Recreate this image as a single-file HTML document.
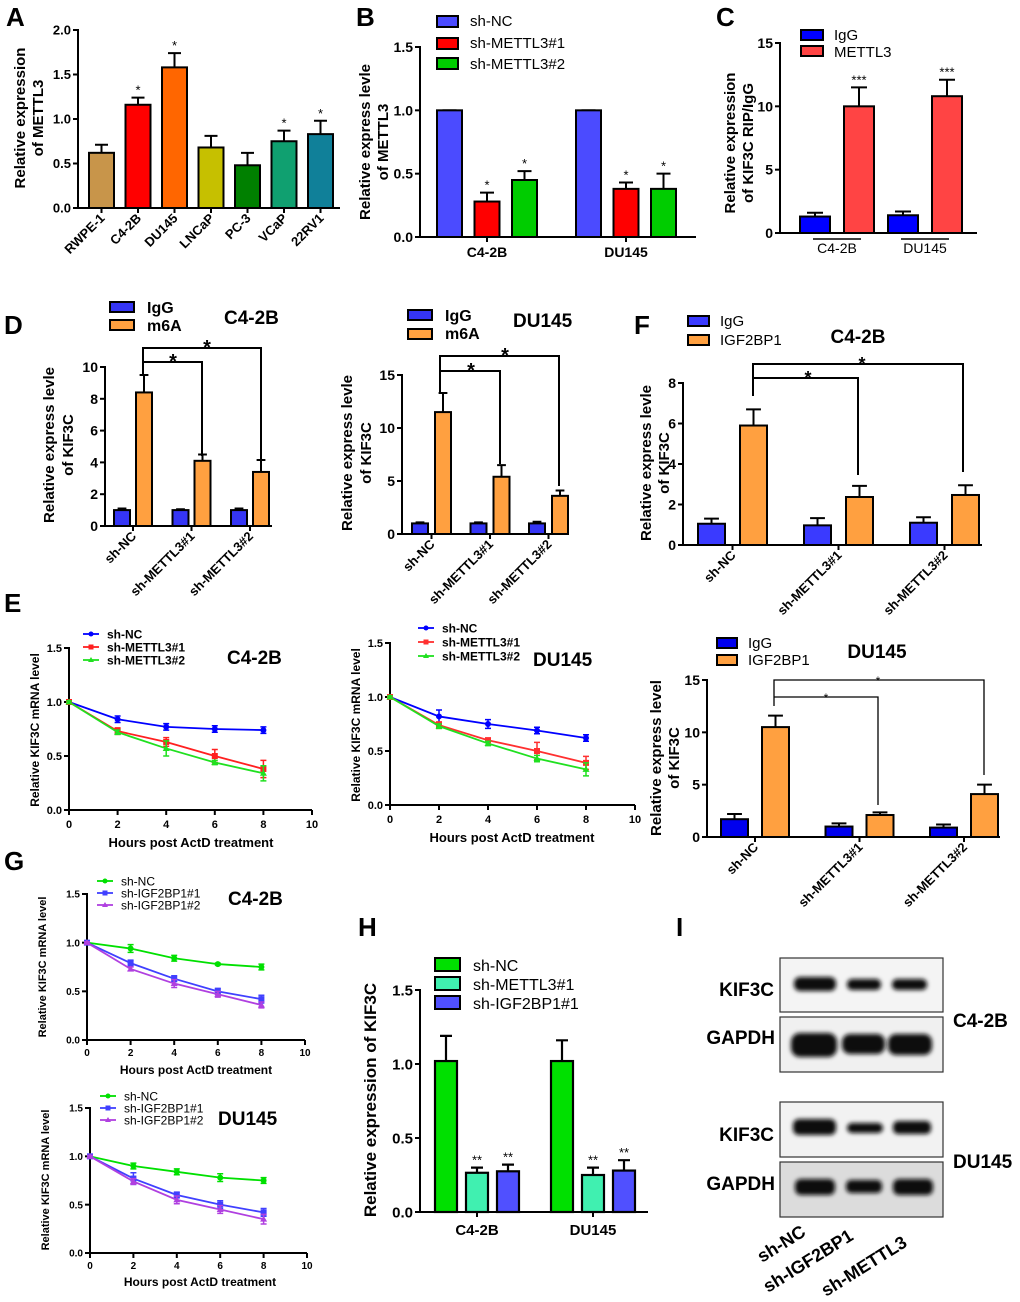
<!DOCTYPE html>
<html><head><meta charset="utf-8">
<style>
html,body{margin:0;padding:0;background:#fff;}
svg{display:block;font-family:"Liberation Sans",Arial,sans-serif;}
.b{font-weight:bold;}
</style></head>
<body>
<svg id="fig" width="1020" height="1302" viewBox="0 0 1020 1302" xmlns="http://www.w3.org/2000/svg">
<defs><filter id="blur" x="-20%" y="-50%" width="140%" height="200%"><feGaussianBlur stdDeviation="2.2"/></filter></defs>
<text x="6" y="26" font-size="26" class="b">A</text>
<text x="356" y="26" font-size="26" class="b">B</text>
<text x="716" y="26" font-size="26" class="b">C</text>
<text x="4" y="334" font-size="26" class="b">D</text>
<text x="4" y="612" font-size="26" class="b">E</text>
<text x="634" y="334" font-size="26" class="b">F</text>
<text x="4" y="870" font-size="26" class="b">G</text>
<text x="358" y="936" font-size="26" class="b">H</text>
<text x="676" y="936" font-size="26" class="b">I</text>

<g font-size="15" class="b" text-anchor="middle">
<text transform="translate(25,118) rotate(-90)">Relative expression</text>
<text transform="translate(43,118) rotate(-90)">of METTL3</text></g>

<g font-size="15">
<rect x="437" y="16" width="21" height="11" fill="#4b4bff" stroke="#000" stroke-width="2"/><text x="470" y="26">sh-NC</text>
<rect x="437" y="38" width="21" height="11" fill="#ff0000" stroke="#000" stroke-width="2"/><text x="470" y="48">sh-METTL3#1</text>
<rect x="437" y="58" width="21" height="11" fill="#00cc00" stroke="#000" stroke-width="2"/><text x="470" y="69">sh-METTL3#2</text></g>
<g font-size="15" class="b" text-anchor="middle">
<text transform="translate(370,142) rotate(-90)">Relative express levle</text>
<text transform="translate(388,142) rotate(-90)">of METTL3</text></g>

<g font-size="15">
<rect x="801" y="30" width="22" height="10" fill="#0000ff" stroke="#000" stroke-width="2"/><text x="834" y="40">IgG</text>
<rect x="801" y="46" width="22" height="10" fill="#ff4444" stroke="#000" stroke-width="2"/><text x="834" y="57">METTL3</text></g>
<g font-size="15" class="b" text-anchor="middle">
<text transform="translate(735,143) rotate(-90)">Relative expression</text>
<text transform="translate(753,143) rotate(-90)">of KIF3C RIP/IgG</text></g>

<g font-size="16" class="b">
<rect x="110" y="302" width="24" height="10" fill="#3535f5" stroke="#000" stroke-width="2"/><text x="147" y="313">IgG</text>
<rect x="110" y="320" width="24" height="10" fill="#ffa040" stroke="#000" stroke-width="2"/><text x="147" y="331">m6A</text></g>
<text x="224" y="324" font-size="19" class="b">C4-2B</text>
<g font-size="15" class="b" text-anchor="middle">
<text transform="translate(54,445) rotate(-90)">Relative express levle</text>
<text transform="translate(73,445) rotate(-90)">of KIF3C</text></g>
<g fill="none" stroke="#000" stroke-width="2">
<path d="M143,374 V348 H261 V470"/><path d="M143,362 H202 V456"/></g>
<text x="173" y="368" font-size="20" class="b" text-anchor="middle">*</text>
<text x="207" y="354" font-size="20" class="b" text-anchor="middle">*</text>

<g font-size="16" class="b">
<rect x="408" y="310" width="24" height="10" fill="#3535f5" stroke="#000" stroke-width="2"/><text x="445" y="321">IgG</text>
<rect x="408" y="329" width="24" height="10" fill="#ffa040" stroke="#000" stroke-width="2"/><text x="445" y="339">m6A</text></g>
<text x="513" y="327" font-size="19" class="b">DU145</text>
<g font-size="15" class="b" text-anchor="middle">
<text transform="translate(352,453) rotate(-90)">Relative express levle</text>
<text transform="translate(371,453) rotate(-90)">of KIF3C</text></g>
<g fill="none" stroke="#000" stroke-width="2">
<path d="M440,392 V356 H559 V486"/><path d="M440,371 H500 V464"/></g>
<text x="471" y="377" font-size="20" class="b" text-anchor="middle">*</text>
<text x="505" y="362" font-size="20" class="b" text-anchor="middle">*</text>

<g font-size="15">
<rect x="688" y="316" width="21" height="10" fill="#3a3aff" stroke="#000" stroke-width="2"/><text x="720" y="326">IgG</text>
<rect x="688" y="335" width="21" height="10" fill="#ffa040" stroke="#000" stroke-width="2"/><text x="720" y="345">IGF2BP1</text></g>
<text x="858" y="343" font-size="19" class="b" text-anchor="middle">C4-2B</text>
<g font-size="15" class="b" text-anchor="middle">
<text transform="translate(651,463) rotate(-90)">Relative express levle</text>
<text transform="translate(669,463) rotate(-90)">of KIF3C</text></g>
<g fill="none" stroke="#000" stroke-width="2">
<path d="M753,396 V364 H963 V472"/><path d="M753,378 H858 V475"/></g>
<text x="808" y="384" font-size="18" class="b" text-anchor="middle">*</text>
<text x="862" y="370" font-size="18" class="b" text-anchor="middle">*</text>

<g font-size="15">
<rect x="717" y="638" width="20" height="10" fill="#0000ee" stroke="#000" stroke-width="2"/><text x="748" y="648">IgG</text>
<rect x="717" y="655" width="20" height="10" fill="#ffa040" stroke="#000" stroke-width="2"/><text x="748" y="665">IGF2BP1</text></g>
<text x="877" y="658" font-size="19" class="b" text-anchor="middle">DU145</text>
<g font-size="15" class="b" text-anchor="middle">
<text transform="translate(661,758) rotate(-90)">Relative express level</text>
<text transform="translate(679,758) rotate(-90)">of KIF3C</text></g>
<g fill="none" stroke="#000" stroke-width="1.3">
<path d="M774,706 V680 H984 V775"/><path d="M774,697 H878 V805"/></g>
<text x="826" y="702" font-size="12" text-anchor="middle">*</text>
<text x="878" y="685" font-size="12" text-anchor="middle">*</text>

<text x="227" y="664" font-size="19" class="b">C4-2B</text>
<text x="533" y="666" font-size="19" class="b">DU145</text>
<text transform="translate(39,730) rotate(-90)" font-size="12" class="b" text-anchor="middle">Relative KIF3C mRNA level</text>
<text transform="translate(360,725) rotate(-90)" font-size="12" class="b" text-anchor="middle">Relative KIF3C mRNA level</text>
<text x="191" y="847" font-size="13" class="b" text-anchor="middle">Hours post ActD treatment</text>
<text x="512" y="842" font-size="13" class="b" text-anchor="middle">Hours post ActD treatment</text>

<text x="228" y="905" font-size="19" class="b">C4-2B</text>
<text x="218" y="1125" font-size="19" class="b">DU145</text>
<text transform="translate(46,967) rotate(-90)" font-size="11" class="b" text-anchor="middle">Relative KIF3C mRNA level</text>
<text transform="translate(49,1180) rotate(-90)" font-size="11" class="b" text-anchor="middle">Relative KIF3C mRNA level</text>
<text x="196" y="1074" font-size="12" class="b" text-anchor="middle">Hours post ActD treatment</text>
<text x="200" y="1286" font-size="12" class="b" text-anchor="middle">Hours post ActD treatment</text>

<g font-size="16">
<rect x="435" y="958" width="25" height="13" fill="#00e000" stroke="#000" stroke-width="2"/><text x="473" y="971">sh-NC</text>
<rect x="435" y="977" width="25" height="13" fill="#40f0b0" stroke="#000" stroke-width="2"/><text x="473" y="990">sh-METTL3#1</text>
<rect x="435" y="996" width="25" height="13" fill="#5050ff" stroke="#000" stroke-width="2"/><text x="473" y="1009">sh-IGF2BP1#1</text></g>
<text transform="translate(376,1100) rotate(-90)" font-size="17" class="b" text-anchor="middle">Relative expression of KIF3C</text>

<g>
<rect x="780" y="958" width="163" height="54" fill="#f4f4f4" stroke="#333" stroke-width="1.2"/>
<g filter="url(#blur)" fill="#111"><rect x="794" y="977" width="42" height="14" rx="6"/><rect x="847" y="979" width="34" height="11" rx="5"/><rect x="892" y="979" width="35" height="11" rx="5"/></g></g>
<g>
<rect x="780" y="1017" width="163" height="55" fill="#f0f0f0" stroke="#333" stroke-width="1.2"/>
<g filter="url(#blur)" fill="#0a0a0a"><rect x="791" y="1033" width="46" height="24" rx="9"/><rect x="842" y="1034" width="43" height="20" rx="8"/><rect x="888" y="1034" width="44" height="21" rx="8"/></g></g>
<g>
<rect x="780" y="1102" width="163" height="55" fill="#f2f2f2" stroke="#333" stroke-width="1.2"/>
<g filter="url(#blur)" fill="#111"><rect x="793" y="1119" width="43" height="16" rx="6"/><rect x="847" y="1123" width="36" height="10" rx="5"/><rect x="893" y="1121" width="38" height="13" rx="5"/></g></g>
<g>
<rect x="780" y="1162" width="163" height="55" fill="#dcdcdc" stroke="#333" stroke-width="1.2"/>
<g filter="url(#blur)" fill="#111"><rect x="795" y="1179" width="40" height="16" rx="6"/><rect x="846" y="1180" width="36" height="13" rx="5"/><rect x="893" y="1179" width="40" height="16" rx="6"/></g></g>
<g font-size="19" class="b" text-anchor="end">
<text x="774" y="996">KIF3C</text><text x="775" y="1044">GAPDH</text>
<text x="774" y="1141">KIF3C</text><text x="775" y="1190">GAPDH</text></g>
<text x="953" y="1027" font-size="19" class="b">C4-2B</text>
<text x="953" y="1168" font-size="19" class="b">DU145</text>
<g font-size="18" class="b">
<text transform="translate(762,1263) rotate(-32)">sh-NC</text>
<text transform="translate(768,1293) rotate(-32)">sh-IGF2BP1</text>
<text transform="translate(826,1297) rotate(-32)">sh-METTL3</text></g>
</svg>

<script>
// ===== DATA =====
const aCategories = ["RWPE-1","C4-2B","DU145","LNCaP","PC-3","VCaP","22RV1"];
const aValues = [0.62,1.16,1.58,0.68,0.48,0.75,0.83];
const aErrors = [0.71,1.24,1.74,0.81,0.62,0.87,0.98];
const aStars = ["","*","*","","","*","*"];
const aTicks = [0,0.5,1.0,1.5,2.0];
const bGroups = ["C4-2B","DU145"];
const bShNC = [1.0,1.0];
const bShM1 = [0.28,0.38];
const bShM2 = [0.45,0.38];
const bErrNC = [1.0,1.0];
const bErrM1 = [0.35,0.43];
const bErrM2 = [0.52,0.50];
const bStars = ["","*","*"];
const bTicks = [0,0.5,1.0,1.5];
const cGroups = ["C4-2B","DU145"];
const cIgG = [1.3,1.4];
const cMETTL3 = [10.0,10.8];
const cErrIgG = [1.6,1.7];
const cErrMETTL3 = [11.5,12.1];
const cTicks = [0,5,10,15];
const dGroups = ["sh-NC","sh-METTL3#1","sh-METTL3#2"];
const d1IgG = [1.0,1.0,1.0];
const d1M6A = [8.4,4.1,3.4];
const d1ErrIgG = [1.1,1.05,1.1];
const d1ErrM6A = [9.5,4.5,4.15];
const d1Ticks = [0,2,4,6,8,10];
const d2IgG = [1.0,1.0,1.0];
const d2M6A = [11.5,5.4,3.6];
const d2ErrIgG = [1.1,1.1,1.15];
const d2ErrM6A = [13.3,6.5,4.1];
const d2Ticks = [0,5,10,15];
const hours = [0,2,4,6,8];
const xTicks = [0,2,4,6,8,10];
const lineTicks = [0,0.5,1.0,1.5];
const e1NC = [1,0.84,0.77,0.75,0.74];
const e1M1 = [1,0.73,0.63,0.50,0.38];
const e1M2 = [1,0.72,0.57,0.44,0.34];
const e1ErrNC = [0.01,0.03,0.03,0.03,0.03];
const e1ErrM1 = [0.01,0.03,0.04,0.06,0.08];
const e1ErrM2 = [0.01,0.02,0.07,0.02,0.07];
const e2NC = [1,0.82,0.75,0.69,0.62];
const e2M1 = [1,0.74,0.60,0.50,0.39];
const e2M2 = [1,0.73,0.57,0.43,0.33];
const e2ErrNC = [0.01,0.06,0.04,0.03,0.03];
const e2ErrM1 = [0.01,0.03,0.02,0.08,0.06];
const e2ErrM2 = [0.01,0.02,0.02,0.03,0.06];
const eSeriesNames = ["sh-NC","sh-METTL3#1","sh-METTL3#2"];
const f1IgG = [1.05,0.97,1.1];
const f1IGF = [5.9,2.37,2.47];
const f1ErrIgG = [1.3,1.33,1.37];
const f1ErrIGF = [6.7,2.92,2.95];
const f1Ticks = [0,2,4,6,8];
const f2IgG = [1.7,1.0,0.9];
const f2IGF = [10.5,2.1,4.1];
const f2ErrIgG = [2.2,1.3,1.2];
const f2ErrIGF = [11.6,2.35,5.0];
const f2Ticks = [0,5,10,15];
const g1NC = [1,0.94,0.84,0.78,0.75];
const g1I1 = [1,0.79,0.63,0.50,0.42];
const g1I2 = [1,0.73,0.58,0.47,0.36];
const g1ErrNC = [0.01,0.04,0.03,0.01,0.03];
const g1ErrI1 = [0.01,0.03,0.03,0.03,0.04];
const g1ErrI2 = [0.01,0.02,0.04,0.03,0.03];
const g2NC = [1,0.90,0.84,0.78,0.75];
const g2I1 = [1,0.77,0.60,0.50,0.42];
const g2I2 = [1,0.74,0.55,0.45,0.35];
const g2ErrNC = [0.01,0.03,0.03,0.04,0.03];
const g2ErrI1 = [0.01,0.06,0.03,0.04,0.04];
const g2ErrI2 = [0.01,0.03,0.04,0.04,0.05];
const gSeriesNames = ["sh-NC","sh-IGF2BP1#1","sh-IGF2BP1#2"];
const hGroups = ["C4-2B","DU145"];
const hShNC = [1.02,1.02];
const hShM1 = [0.265,0.25];
const hShI1 = [0.275,0.28];
const hErrNC = [1.19,1.16];
const hErrM1 = [0.30,0.30];
const hErrI1 = [0.32,0.35];
const hStars = ["","**","**"];
const hTicks = [0,0.5,1.0,1.5];

// ===== HELPERS =====
const NS = "http://www.w3.org/2000/svg";
const fig = document.getElementById("fig");
function mk(parent, tag, attrs, text) {
  const e = document.createElementNS(NS, tag);
  for (const k in attrs) e.setAttribute(k, attrs[k]);
  if (text != null) e.textContent = text;
  parent.appendChild(e);
  return e;
}
function scaleY(base, top, max) { return v => base - (v / max) * (base - top); }
function scaleX(x0, x1, max) { return v => x0 + (v / max) * (x1 - x0); }

function drawAxes(name, ax, base, top, xEnd, ticks, max, fmt, fs) {
  const g = mk(fig, "g", {});
  
  
  const sy = scaleY(base, top, max);
  mk(g, "line", {x1: ax, y1: top - 1, x2: ax, y2: base, stroke: "#000", "stroke-width": 2});
  mk(g, "line", {x1: ax - 1, y1: base, x2: xEnd, y2: base, stroke: "#000", "stroke-width": 2});
  ticks.forEach(t => {
    const y = sy(t);
    mk(g, "line", {x1: ax - 5, y1: y, x2: ax, y2: y, stroke: "#000", "stroke-width": 2});
    const lbl = mk(g, "text", {x: ax - 7, y: y + fs * 0.36, "font-size": fs, "font-weight": "bold", "text-anchor": "end"}, fmt(t));
    
    
  });
  return sy;
}

function drawBarSeries(name, sy, base, values, errs, color, start, gStep, w, capW, sw) {
  const g = mk(fig, "g", {});
  
  
  values.forEach((v, i) => {
    const x = start + i * gStep;
    const y = sy(v);
    const ey = sy(errs[i]);
    const ln = mk(g, "path", {d: `M${x + w / 2},${y} V${ey} M${x + w / 2 - capW / 2},${ey} H${x + w / 2 + capW / 2}`, stroke: "#000", "stroke-width": sw, fill: "none"});
    
    
    const r = mk(g, "rect", {x: x, y: y, width: w, height: base - y, fill: color, stroke: "#000", "stroke-width": sw});
    
    
  });
}

function drawStars(name, sy, errs, labels, start, gStep, w, fs, bold) {
  labels.forEach((s, i) => {
    if (!s) return;
    const t = mk(fig, "text", {x: start + i * gStep + w / 2, y: sy(errs[i]) - 3, "font-size": fs, "text-anchor": "middle", "font-weight": bold ? "bold" : "normal"}, s);
    
    
  });
}

function drawRotLabels(name, cats, centers, base, fs, ang) {
  cats.forEach((c, i) => {
    const x = centers[i];
    mk(fig, "line", {x1: x, y1: base, x2: x, y2: base + 5, stroke: "#000", "stroke-width": 2});
    const t = mk(fig, "text", {transform: `translate(${x + 4},${base + 11}) rotate(${ang})`, "font-size": fs, "font-weight": "bold", "text-anchor": "end"}, c);
    
    
  });
}

function drawLineChart(name, ax, xEnd, base, top, ySeries, yErrs, colors, markers, fsT, legX, legY, legStep, legFs, legBold, names, tickLabY) {
  const sy = drawAxes(name, ax, base, top, xEnd, lineTicks, 1.5, v => v.toFixed(1), fsT);
  const sx = scaleX(ax, xEnd, 10);
  xTicks.forEach(t => {
    mk(fig, "line", {x1: sx(t), y1: base, x2: sx(t), y2: base + 5, stroke: "#000", "stroke-width": 2});
    const l = mk(fig, "text", {x: sx(t), y: tickLabY, "font-size": fsT, "font-weight": "bold", "text-anchor": "middle"}, String(t));
    
    
  });
  ySeries.forEach((ser, s) => {
    const g = mk(fig, "g", {});
    
    
    const pts = ser.map((v, i) => sx(hours[i]) + "," + sy(v)).join(" ");
    const pl = mk(g, "polyline", {points: pts, fill: "none", stroke: colors[s], "stroke-width": 1.8});
    
    
    ser.forEach((v, i) => {
      const x = sx(hours[i]), y = sy(v), e = yErrs[s][i];
      mk(g, "path", {d: `M${x},${sy(v + e)} V${sy(v - e)} M${x - 3},${sy(v + e)} H${x + 3} M${x - 3},${sy(v - e)} H${x + 3}`, stroke: colors[s], "stroke-width": 1.5, fill: "none"});
      let m;
      if (markers[s] === "c") m = mk(g, "circle", {cx: x, cy: y, r: 3, fill: colors[s]});
      else if (markers[s] === "s") m = mk(g, "rect", {x: x - 3, y: y - 3, width: 6, height: 6, fill: colors[s]});
      else m = mk(g, "path", {d: `M${x},${y - 3.5} L${x + 3.5},${y + 2.5} L${x - 3.5},${y + 2.5}Z`, fill: colors[s]});
      
      
    });
    const ly = legY + s * legStep;
    const le = mk(fig, "g", {});
    
    
    mk(le, "line", {x1: legX, y1: ly, x2: legX + 16, y2: ly, stroke: colors[s], "stroke-width": 1.8});
    if (markers[s] === "c") mk(le, "circle", {cx: legX + 8, cy: ly, r: 2.5, fill: colors[s]});
    else if (markers[s] === "s") mk(le, "rect", {x: legX + 5.5, y: ly - 2.5, width: 5, height: 5, fill: colors[s]});
    else mk(le, "path", {d: `M${legX + 8},${ly - 3} L${legX + 11},${ly + 2} L${legX + 5},${ly + 2}Z`, fill: colors[s]});
    mk(le, "text", {x: legX + 24, y: ly + legFs * 0.36, "font-size": legFs, "font-weight": legBold ? "bold" : "normal"}, names[s]);
  });
}

const f1 = v => v.toFixed(1);
const f0 = v => String(v);

// ===== PANEL A =====
(function () {
  const base = 208, start = 89, step = 36.5, w = 25;
  const sy = drawAxes("panel-a", 78, base, 30, 340, aTicks, 2.0, f1, 13);
  drawBarSeries("panel-a-bars", sy, base, aValues, aErrors, "#888", start, step, w, 13, 2);
  const cols = ["#c8954a","#ff0000","#ff6600","#c6c000","#008000","#10a070","#108099"];
  const bars = fig.lastChild.querySelectorAll("rect");
  bars.forEach((r, i) => r.setAttribute("fill", cols[i]));
  drawStars("panel-a", sy, aErrors, aStars, start, step, w, 13, false);
  drawRotLabels("panel-a", aCategories, aCategories.map((c, i) => start + i * step + w / 2), base, 13, -45);
})();

// ===== PANEL B =====
(function () {
  const base = 237, start = 437, gStep = 139, bStep = 37.5, w = 25;
  const sy = drawAxes("panel-b", 420, base, 47, 696, bTicks, 1.5, f1, 14);
  const vals = [bShNC, bShM1, bShM2], errs = [bErrNC, bErrM1, bErrM2];
  const cols = ["#4b4bff", "#ff0000", "#00cc00"], nm = ["sh-nc", "sh-mettl3-1", "sh-mettl3-2"];
  vals.forEach((v, s) => {
    drawBarSeries("panel-b-" + nm[s], sy, base, v, errs[s], cols[s], start + s * bStep, gStep, w, 14, 2);
    drawStars("panel-b-" + nm[s], sy, errs[s], bGroups.map(() => bStars[s]), start + s * bStep, gStep, w, 13, false);
  });
  bGroups.forEach((gname, i) => {
    const cx = start + i * gStep + bStep + w / 2;
    mk(fig, "line", {x1: cx, y1: base, x2: cx, y2: base + 5, stroke: "#000", "stroke-width": 2});
    const t = mk(fig, "text", {x: cx, y: base + 20, "font-size": 14, "font-weight": "bold", "text-anchor": "middle"}, gname);
    
    
  });
})();

// ===== PANEL C =====
(function () {
  const base = 233, start = 800, gStep = 88, bStep = 44, w = 30;
  const sy = drawAxes("panel-c", 780, base, 43, 977, cTicks, 15, f0, 14);
  drawBarSeries("panel-c-igg", sy, base, cIgG, cErrIgG, "#0000ff", start, gStep, w, 16, 2);
  drawBarSeries("panel-c-mettl3", sy, base, cMETTL3, cErrMETTL3, "#ff4444", start + bStep, gStep, w, 16, 2);
  drawStars("panel-c-mettl3", sy, cErrMETTL3, ["***", "***"], start + bStep, gStep, w, 13, false);
  cGroups.forEach((gname, i) => {
    const cx = start + i * gStep + (bStep + w) / 2;
    mk(fig, "line", {x1: cx - 24, y1: 239, x2: cx + 24, y2: 239, stroke: "#000", "stroke-width": 1.5});
    const t = mk(fig, "text", {x: cx, y: 253, "font-size": 14, "text-anchor": "middle"}, gname);
    
    
  });
})();

// ===== PANEL D / F =====
function groupedPair(name, ax, base, top, xEnd, ticks, max, s1, e1, s2, e2, c1, c2, start, gStep, bStep, w, fsT, fsC, ang, sw) {
  const sy = drawAxes(name, ax, base, top, xEnd, ticks, max, f0, fsT);
  drawBarSeries(name + "-igg", sy, base, s1, e1, c1, start, gStep, w, w * 0.55, sw);
  drawBarSeries(name + "-treat", sy, base, s2, e2, c2, start + bStep, gStep, w, w * 0.55, sw);
  drawRotLabels(name, dGroups, dGroups.map((c, i) => start + i * gStep + (bStep + w) / 2), base, fsC, ang);
}
groupedPair("panel-d1", 105, 526, 367, 272, d1Ticks, 10, d1IgG, d1ErrIgG, d1M6A, d1ErrM6A, "#3535f5", "#ffa040", 114, 58.5, 22, 16, 14, 13, -45, 2);
groupedPair("panel-d2", 402, 534, 375, 569, d2Ticks, 15, d2IgG, d2ErrIgG, d2M6A, d2ErrM6A, "#3535f5", "#ffa040", 412, 58.5, 23, 16, 14, 13, -45, 2);
groupedPair("panel-f1", 683, 545, 383, 982, f1Ticks, 8, f1IgG, f1ErrIgG, f1IGF, f1ErrIGF, "#3a3aff", "#ffa040", 698, 106, 42, 27, 14, 13, -45, 2);
groupedPair("panel-f2", 707, 837, 680, 1000, f2Ticks, 15, f2IgG, f2ErrIgG, f2IGF, f2ErrIGF, "#0000ee", "#ffa040", 721, 104.5, 41, 27, 14, 13, -45, 2);

// ===== PANEL E =====
drawLineChart("panel-e1", 69, 312, 810, 648, [e1NC, e1M1, e1M2], [e1ErrNC, e1ErrM1, e1ErrM2], ["#0000ff", "#ff2020", "#20e020"], ["c", "s", "t"], 11, 83, 634, 13, 12, true, eSeriesNames, 828);
drawLineChart("panel-e2", 390, 635, 805, 643, [e2NC, e2M1, e2M2], [e2ErrNC, e2ErrM1, e2ErrM2], ["#0000ff", "#ff3030", "#20e020"], ["c", "s", "t"], 11, 418, 628, 14, 12, true, eSeriesNames, 823);

// ===== PANEL G =====
drawLineChart("panel-g1", 87, 305, 1040, 894, [g1NC, g1I1, g1I2], [g1ErrNC, g1ErrI1, g1ErrI2], ["#00e000", "#4040ff", "#b040e0"], ["c", "s", "t"], 10, 97, 881, 12, 12, false, gSeriesNames, 1056);
drawLineChart("panel-g2", 90, 307, 1253, 1108, [g2NC, g2I1, g2I2], [g2ErrNC, g2ErrI1, g2ErrI2], ["#00e000", "#4040ff", "#b040e0"], ["c", "s", "t"], 10, 100, 1096, 12, 12, false, gSeriesNames, 1269);

// ===== PANEL H =====
(function () {
  const base = 1212, start = 435, gStep = 116, bStep = 31, w = 22;
  const sy = drawAxes("panel-h", 420, base, 990, 648, hTicks, 1.5, f1, 15);
  const vals = [hShNC, hShM1, hShI1], errs = [hErrNC, hErrM1, hErrI1];
  const cols = ["#00e000", "#40f0b0", "#5050ff"], nm = ["sh-nc", "sh-mettl3-1", "sh-igf2bp1-1"];
  vals.forEach((v, s) => {
    drawBarSeries("panel-h-" + nm[s], sy, base, v, errs[s], cols[s], start + s * bStep, gStep, w, 12, 2.2);
    drawStars("panel-h-" + nm[s], sy, errs[s], hGroups.map(() => hStars[s]), start + s * bStep, gStep, w, 13, false);
  });
  hGroups.forEach((gname, i) => {
    const cx = start + i * gStep + bStep + w / 2;
    mk(fig, "line", {x1: cx, y1: base, x2: cx, y2: base + 5, stroke: "#000", "stroke-width": 2});
    const t = mk(fig, "text", {x: cx, y: base + 23, "font-size": 15, "font-weight": "bold", "text-anchor": "middle"}, gname);
    
    
  });
})();
</script>
</body></html>
